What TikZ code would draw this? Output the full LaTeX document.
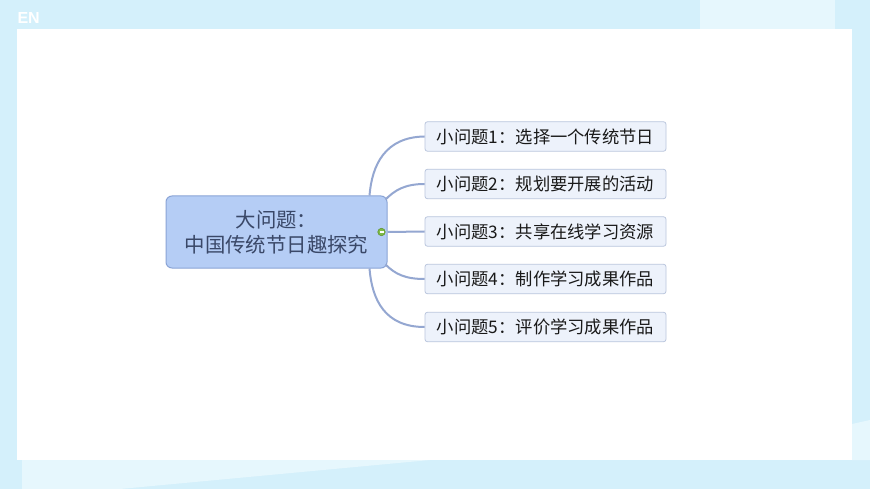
\documentclass[tikz,border=0pt]{standalone}
\usepackage{fontspec}
\newfontfamily\cjk{Noto Sans CJK SC}
\setsansfont{Liberation Sans}
\definecolor{bgblue}{HTML}{D4F0FB}
\definecolor{paleblue}{HTML}{E6F7FD}
\definecolor{mainfill}{HTML}{B5CDF5}
\definecolor{mainedge}{HTML}{8AA4D6}
\definecolor{maintext}{HTML}{3A4868}
\definecolor{subfill}{HTML}{EDF2FB}
\definecolor{subedge}{HTML}{BAC6DD}
\definecolor{linkcol}{HTML}{94A7D1}
\definecolor{knob}{HTML}{7DBB44}
\tikzset{
  mainbox/.style={draw=mainedge, line width=1pt, fill=mainfill, rounded corners=6pt,
    minimum width=221pt, minimum height=72pt, align=center, inner sep=0pt,
    font=\cjk\fontsize{20.4}{25}\selectfont, text=maintext},
  subbox/.style={draw=subedge, line width=0.8pt, fill=subfill, rounded corners=2.5pt,
    minimum width=241pt, minimum height=29.5pt, inner sep=0pt,
    font=\cjk\fontsize{17.3}{20}\selectfont, text=black!90},
  link/.style={draw=linkcol, line width=2pt},
}
\begin{document}
\begin{tikzpicture}[x=1pt,y=-1pt]
\useasboundingbox (0,0) rectangle (870,489);
% background
\fill[bgblue] (0,0) rectangle (870,489);
\fill[paleblue] (22,460) -- (22,489) -- (120,489) -- (430,460) -- cycle;
\fill[paleblue] (700,0) -- (835,0) -- (835,29) -- (700,29) -- cycle;
\fill[paleblue] (852,460) -- (870,460) -- (870,420) -- (852,424) -- cycle;
\fill[white] (17,29) rectangle (852,460);
\node[font=\sffamily\bfseries\fontsize{16}{16}\selectfont, text=white, anchor=west] (en) at (14,18) {EN};
% central node
\node[mainbox] (c) at (276.5,232) {大问题：\\中国传统节日趣探究};
% sub nodes
\node[subbox] (s1) at (545.5,136.5) {小问题1：选择一个传统节日};
\node[subbox] (s2) at (545.5,184) {小问题2：规划要开展的活动};
\node[subbox] (s3) at (545.5,231.5) {小问题3：共享在线学习资源};
\node[subbox] (s4) at (545.5,279) {小问题4：制作学习成果作品};
\node[subbox] (s5) at (545.5,327) {小问题5：评价学习成果作品};
% connectors
\coordinate (o1) at ([xshift=-18pt]c.north east);
\coordinate (o2) at ([xshift=-2pt,yshift=-4pt]c.north east);
\coordinate (o4) at ([xshift=-2pt,yshift=4pt]c.south east);
\coordinate (o5) at ([xshift=-18pt]c.south east);
\path[link] (o1) .. controls (372,165) and (385,137) .. (s1.west);
\path[link] (o2) .. controls (395,190) and (405,184) .. (s2.west);
\path[link] (c.east) -- (s3.west);
\path[link] (o4) .. controls (395,274) and (405,279) .. (s4.west);
\path[link] (o5) .. controls (372,300) and (385,327) .. (s5.west);
% collapse knob
\node[circle, draw=knob!80!black, line width=0.6pt, fill=knob, minimum size=7.5pt, inner sep=0pt] (k) at (381.5,232) {};
\draw[white, line width=1.2pt] ([xshift=-2pt]k.center) -- ([xshift=2pt]k.center);
\end{tikzpicture}
\end{document}
